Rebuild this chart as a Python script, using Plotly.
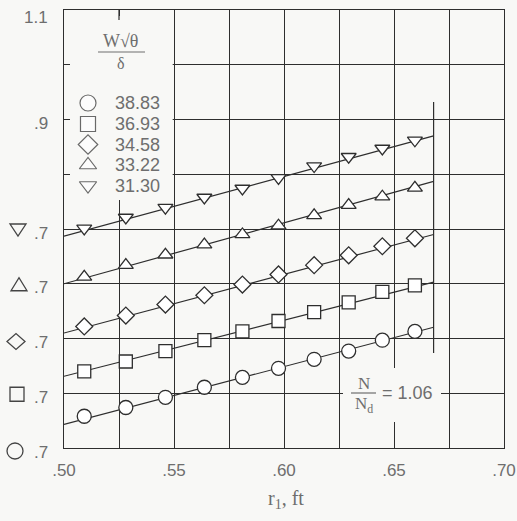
import plotly.graph_objects as go

# ---------------- data ----------------
r1 = [0.5092, 0.5281, 0.5461, 0.5638, 0.5811, 0.5975, 0.6137, 0.6294, 0.6447, 0.6595]

flow_labels = ["38.83", "36.93", "34.58", "33.22", "31.30"]
symbols = ["circle", "square", "diamond", "triangle-up", "triangle-down"]

eff_3883 = [0.758, 0.774, 0.7925, 0.811, 0.829, 0.8455, 0.862, 0.877, 0.897, 0.913]
eff_3693 = [0.740, 0.758, 0.777, 0.797, 0.813, 0.832, 0.848, 0.866, 0.885, 0.897]
eff_3458 = [0.722, 0.742, 0.762, 0.779, 0.7985, 0.817, 0.834, 0.852, 0.8685, 0.883]
eff_3322 = [0.7125, 0.734, 0.753, 0.7716, 0.790, 0.806, 0.825, 0.8436, 0.859, 0.875]
eff_3130 = [0.701, 0.721, 0.739, 0.7575, 0.774, 0.7935, 0.815, 0.832, 0.847, 0.862]

fit_x = [0.50, 0.668]
fit_3883 = [0.743, 0.9205]
fit_3693 = [0.731, 0.903]
fit_3458 = [0.710, 0.890]
fit_3322 = [0.700, 0.887]
fit_3130 = [0.687, 0.870]

eff_series = [eff_3883, eff_3693, eff_3458, eff_3322, eff_3130]
fit_series = [fit_3883, fit_3693, fit_3458, fit_3322, fit_3130]
stagger = [0.0, 0.1, 0.2, 0.3, 0.4]   # each curve's ".7" is one grid step higher
base = 0.7

x_tickvals = [0.50, 0.55, 0.60, 0.65, 0.70]
x_ticktext = [".50", ".55", ".60", ".65", ".70"]
x_minor_step = 0.025
y_tickvals = [0.0, 0.1, 0.2, 0.3, 0.4, 0.5, 0.6, 0.7, 0.8]
y_label_vals = [0.0, 0.1, 0.2, 0.3, 0.4, 0.6, 0.8]
y_label_text = [".7", ".7", ".7", ".7", ".7", ".9", "1.1"]

speed_ratio = "1.06"

# ---------------- style ----------------
INK = "#2e2e2e"
TXT = "#6e6e6e"
BG = "#f8f8f6"
SANS = "Liberation Sans"
SERIF = "Liberation Serif"
Y_SPAN = 0.8
msize = {"circle": 14, "square": 13, "diamond": 13, "triangle-up": 13, "triangle-down": 13}

# pixel -> data helpers for placing annotations
def xd(px):
    return 0.5 + (px - 64) / 440 * 0.2

def yd(py):
    return (448 - py) / 438 * Y_SPAN

fig = go.Figure()

for vals, fit, off, sym, lab in zip(eff_series, fit_series, stagger, symbols, flow_labels):
    fig.add_trace(go.Scatter(
        x=fit_x, y=[v - base + off for v in fit], mode="lines",
        line=dict(color=INK, width=1.2), hoverinfo="skip"))
    fig.add_trace(go.Scatter(
        x=r1, y=[v - base + off for v in vals], mode="markers", name=lab,
        marker=dict(symbol=sym, size=msize[sym], color="white",
                    line=dict(color=INK, width=1.3))))

# legend symbols
leg_rows = [103, 124, 144.5, 165, 185.5]
fig.add_trace(go.Scatter(
    x=[xd(88)] * 5, y=[yd(r) for r in leg_rows], mode="markers",
    marker=dict(symbol=symbols, size=[16, 15, 15, 15, 15], color="white",
                line=dict(color=INK, width=1.2)),
    hoverinfo="skip"))

shapes = [
    dict(type="rect", xref="x", yref="y", x0=0.5, x1=0.5494, y0=yd(200), y1=Y_SPAN,
         fillcolor=BG, line=dict(width=0), layer="between"),
    dict(type="rect", xref="x", yref="y", x0=xd(343), x1=xd(441), y0=yd(422), y1=yd(368),
         fillcolor=BG, line=dict(width=0), layer="between"),
    dict(type="line", xref="x", yref="y", x0=fit_x[1], x1=fit_x[1], y0=yd(353), y1=yd(102),
         line=dict(color=INK, width=1.2)),
    dict(type="line", xref="x", yref="y", x0=xd(98), x1=xd(145), y0=yd(52), y1=yd(52),
         line=dict(color=TXT, width=1.2)),
    dict(type="line", xref="x", yref="y", x0=xd(351), x1=xd(376), y0=yd(393), y1=yd(393),
         line=dict(color=TXT, width=1.2)),
    # short top-border tick at .525 inside the legend box
    dict(type="line", xref="x", yref="paper", x0=0.525, x1=0.525, y0=0, y1=-10,
         ysizemode="pixel", yanchor=1, line=dict(color=INK, width=1.2)),
]

# curve symbols beside the ".7" labels, sized in pixels, anchored left of the axis
sym_line = dict(color="#444444", width=1.3)
def pix_shape(kind, anchor_val):
    d = dict(xref="paper", yref="paper", xsizemode="pixel", ysizemode="pixel",
             xanchor=0, yanchor=anchor_val / Y_SPAN, line=sym_line, layer="above")
    d.update(kind)
    return d

shapes += [
    pix_shape(dict(type="circle", x0=-57, x1=-41, y0=-11, y1=5), stagger[0]),
    pix_shape(dict(type="rect", x0=-54, x1=-40, y0=-8, y1=6), stagger[1]),
    pix_shape(dict(type="path", path="M -57,-3 L -48,5 L -39,-3 L -48,-11 Z"), stagger[2]),
    pix_shape(dict(type="path", path="M -53,-7 L -37,-7 L -45,6 Z"), stagger[3]),
    pix_shape(dict(type="path", path="M -54,5 L -38,5 L -46,-7 Z"), stagger[4]),
]

ann = []
for v, t in zip(y_label_vals, y_label_text):
    ann.append(dict(xref="paper", x=0, y=v, text=t, xanchor="right", yanchor="middle",
                    xshift=-14, yshift=-7 if t == "1.1" else -4, showarrow=False,
                    font=dict(family=SANS, size=17, color=TXT)))
for r, lab in zip(leg_rows, flow_labels):
    ann.append(dict(x=xd(113), y=yd(r), text=lab, xanchor="left", yanchor="middle",
                    showarrow=False, font=dict(family=SANS, size=18, color=TXT)))
ann += [
    dict(x=xd(121), y=yd(41), text="W√θ", showarrow=False, xanchor="center", yanchor="middle",
         font=dict(family=SERIF, size=18, color=TXT)),
    dict(x=xd(121), y=yd(63), text="δ", showarrow=False, xanchor="center", yanchor="middle",
         font=dict(family=SERIF, size=16, color=TXT)),
    dict(x=xd(363.5), y=yd(383), text="N", showarrow=False, xanchor="center", yanchor="middle",
         font=dict(family=SERIF, size=17, color=TXT)),
    dict(x=xd(363.5), y=yd(405), text="N<sub>d</sub>", showarrow=False, xanchor="center",
         yanchor="middle", font=dict(family=SERIF, size=17, color=TXT)),
    dict(x=xd(380), y=yd(393), text="= " + speed_ratio, showarrow=False, xanchor="left",
         yanchor="middle", font=dict(family=SANS, size=18, color=TXT)),
    dict(xref="paper", yref="paper", x=(286 - 64) / 440, y=(448 - 500) / 438,
         text="r<sub>1</sub>, ft", showarrow=False, xanchor="center", yanchor="middle",
         font=dict(family=SERIF, size=20, color=TXT)),
]

fig.update_layout(
    width=517, height=521,
    margin=dict(l=64, r=13, t=10, b=73, autoexpand=False),
    paper_bgcolor=BG, plot_bgcolor=BG,
    showlegend=False, hovermode=False,
    shapes=shapes, annotations=ann,
    xaxis=dict(range=[0.5, 0.7], tickvals=x_tickvals, ticktext=x_ticktext,
               automargin=False,
               showgrid=True, gridcolor=INK, gridwidth=1.2, zeroline=False,
               showline=True, linecolor=INK, linewidth=1.4, mirror="ticks",
               ticks="inside", ticklen=6, tickcolor=INK, tickwidth=1.2,
               ticklabelstandoff=6,
               minor=dict(tick0=0.5, dtick=x_minor_step, showgrid=True, gridcolor=INK,
                          gridwidth=1.2, ticks="inside", ticklen=6, tickcolor=INK),
               tickfont=dict(family=SANS, size=17, color=TXT)),
    yaxis=dict(range=[0, Y_SPAN], tickvals=y_tickvals, showticklabels=False,
               automargin=False,
               showgrid=True, gridcolor=INK, gridwidth=1.2, zeroline=False,
               showline=True, linecolor=INK, linewidth=1.4, mirror="ticks",
               ticks="inside", ticklen=6, tickcolor=INK, tickwidth=1.2),
)

fig.write_html("out.html", config={"displayModeBar": False},
               post_script="document.body.style.margin='0';document.body.style.padding='0';"
                           "document.body.style.background='" + BG + "';")
